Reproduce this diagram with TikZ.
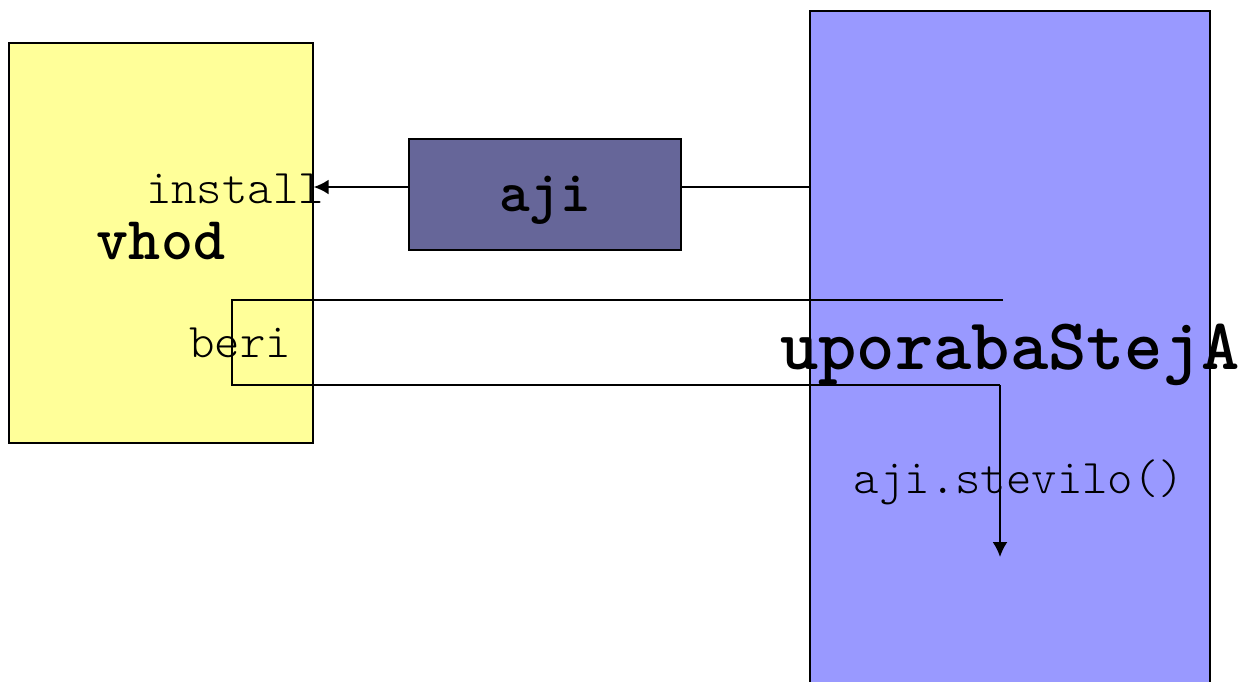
\documentclass[tikz,border=0pt]{standalone}
\usepackage{fontspec}
\setmonofont{lmmonolt10-regular.otf}[BoldFont=lmmonolt10-bold.otf]
\usetikzlibrary{arrows.meta,positioning}
\definecolor{vhodfill}{HTML}{FFFF99}
\definecolor{ajifill}{HTML}{666699}
\definecolor{upofill}{HTML}{9999FF}
\tikzstyle{classbox} = [rectangle,draw=black,line width=0.7pt,inner sep=0pt]
\tikzstyle{lbl} = [inner sep=0pt,anchor=base,font=\ttfamily\fontsize{24.2}{26}\selectfont]
\tikzstyle{blbl} = [inner sep=0pt,anchor=base]
\tikzstyle{conn} = [line width=1pt]
\begin{document}
\begin{tikzpicture}[x=0.5pt,y=-0.5pt,>={Latex[length=7.5pt,width=7.5pt]}]
\useasboundingbox (0,0) rectangle (1247,681);

\node (vhod) [classbox,fill=vhodfill,minimum width=152pt,minimum height=200pt] at (161,243) {};
\node (aji) [classbox,fill=ajifill,minimum width=136pt,minimum height=55.5pt] at (545,194.5) {};
\node (upo) [classbox,fill=upofill,minimum width=200pt,minimum height=350pt] at (1010,361) {};

\node (install) [lbl] at (235,203) {install};
\node (vhodt) [blbl,font=\ttfamily\bfseries\fontsize{30.5}{32}\selectfont] at (161,259) {vhod};
\node (beri) [lbl] at (240,357) {beri};
\node (ajit) [blbl,font=\ttfamily\bfseries\fontsize{29.2}{31}\selectfont] at (545,211) {aji};
\node (upot) [blbl,font=\ttfamily\bfseries\fontsize{36.5}{38}\selectfont] at (1010,369) {uporabaStejA};
\node (stev) [lbl] at (1019,493) {aji.stevilo()};

\coordinate (inst) at (vhod.east |- 0,187);
\coordinate (beri1) at (1003,300);
\coordinate (beri2) at (232,385);
\coordinate (beri3) at (1000,385);
\coordinate (beri4) at (1000,557);

\draw[conn,->] (aji.west |- inst)--(inst);
\draw[conn] (aji.east |- inst)--(upo.west |- inst);
\draw[conn] (beri1)-|(beri2)--(beri3);
\draw[conn,->] (beri3)--(beri4);

\end{tikzpicture}
\end{document}
